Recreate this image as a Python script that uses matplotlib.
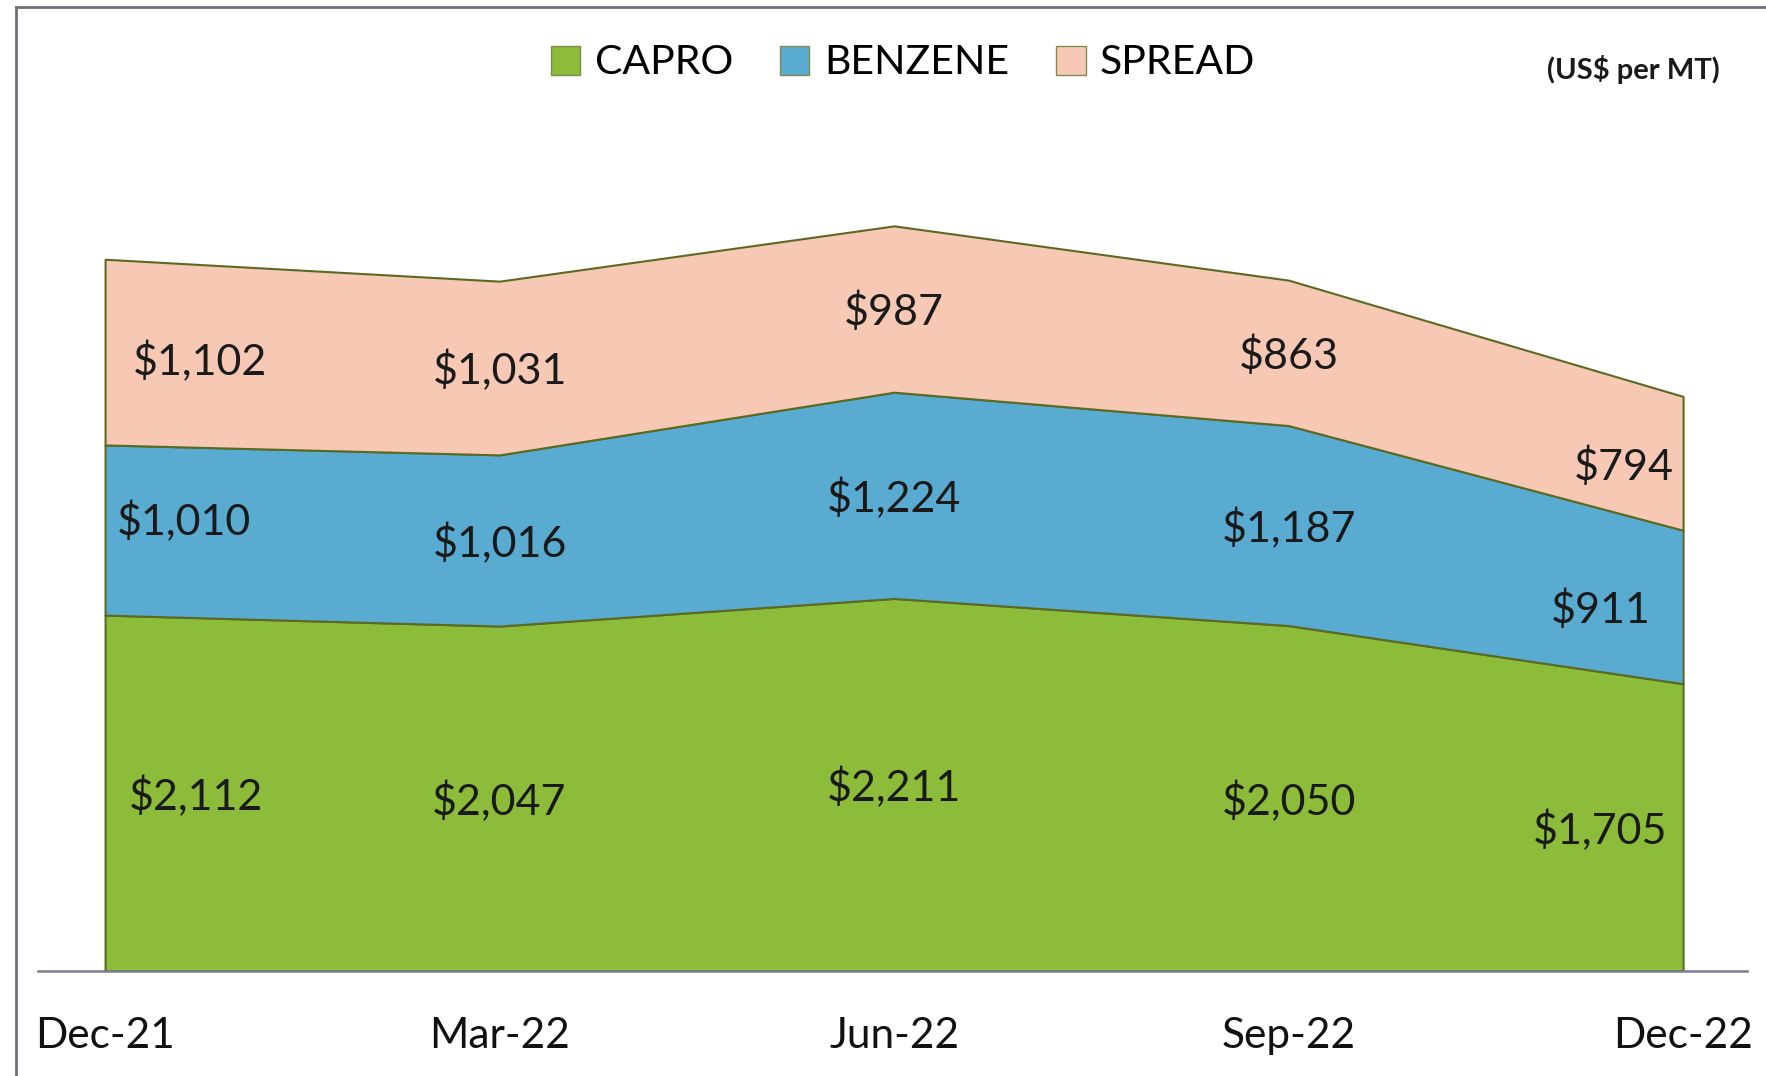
import matplotlib
matplotlib.use("Agg")
import matplotlib.pyplot as plt
from matplotlib.patches import Patch
from matplotlib.lines import Line2D
import numpy as np

months = ["Dec-21", "Mar-22", "Jun-22", "Sep-22", "Dec-22"]
capro = [2112, 2047, 2211, 2050, 1705]
benzene = [1010, 1016, 1224, 1187, 911]
spread = [1102, 1031, 987, 863, 794]
series_names = ["CAPRO", "BENZENE", "SPREAD"]

colors = ["#8DBB3A", "#5AABD1", "#F7C9B5"]
edge = "#5B6A22"

W, H = 1766, 1076
fig = plt.figure(figsize=(W / 100, H / 100), dpi=100)
plt.rcParams['font.family'] = ['Lato', 'DejaVu Sans']

# axes placement in pixels
left_px, right_px = 38, 1747
base_px, top_px = 971, 100
ax = fig.add_axes([left_px / W, 1 - base_px / H, (right_px - left_px) / W, (base_px - top_px) / H])

x = np.arange(len(months))
ax.stackplot(x, capro, benzene, spread, colors=colors, edgecolor=edge, linewidth=1.5)

ax.set_xlim(-0.17, 4.162)
ax.set_ylim(0, 5169)
ax.set_xticks(x)
ax.set_xticklabels(months, fontsize=30.5, color="#111111")
ax.tick_params(axis='x', length=0, pad=33)
ax.set_yticks([])
for sp in ["top", "right", "left"]:
    ax.spines[sp].set_visible(False)
ax.spines["bottom"].set_color("#7a7d8c")
ax.spines["bottom"].set_linewidth(1.8)

# data labels near the vertical centre of each band (offsets are placement only)
dx = [[0.23, 0.0, 0.0, 0.0, -0.21],
      [0.20, 0.0, 0.0, 0.0, -0.21],
      [0.24, 0.0, 0.0, 0.0, -0.15]]
dy = [[-20, -18, -18, -18, -18],
      [50, -18, -18, -18, -18],
      [-57, -18, -18, -18, -18]]
c = np.array(capro, float)
b = np.array(benzene, float)
s = np.array(spread, float)
centres = [c / 2, c + b / 2, c + b + s / 2]
vals = [capro, benzene, spread]
for k in range(3):
    for i in range(len(months)):
        ax.text(x[i] + dx[k][i], centres[k][i] + dy[k][i], "${:,}".format(vals[k][i]),
                ha="center", va="center", fontsize=31, color="#1a1a1a")

# legend
handles = [Patch(facecolor=col, edgecolor="#7f8a50", linewidth=1.0) for col in colors]
fig.legend(handles, series_names, loc="center", bbox_to_anchor=(903 / W, 1 - 63 / H),
           ncol=3, frameon=False, fontsize=29.5, handlelength=0.72, handleheight=0.72,
           handletextpad=0.35, columnspacing=1.15, borderaxespad=0)

fig.text(1633 / W, 1 - 70 / H, "(US$ per MT)", ha="center", va="center",
         fontsize=21, fontweight="bold", color="#1a1a1a")

# outer frame (left and top edges)
fig.add_artist(Line2D([16 / W, 16 / W], [0, 1 - 7 / H], transform=fig.transFigure,
                      color="#6e6f7a", linewidth=2))
fig.add_artist(Line2D([16 / W, 1], [1 - 7 / H, 1 - 7 / H], transform=fig.transFigure,
                      color="#6e6f7a", linewidth=2))

fig.savefig("out.png", dpi=100)
